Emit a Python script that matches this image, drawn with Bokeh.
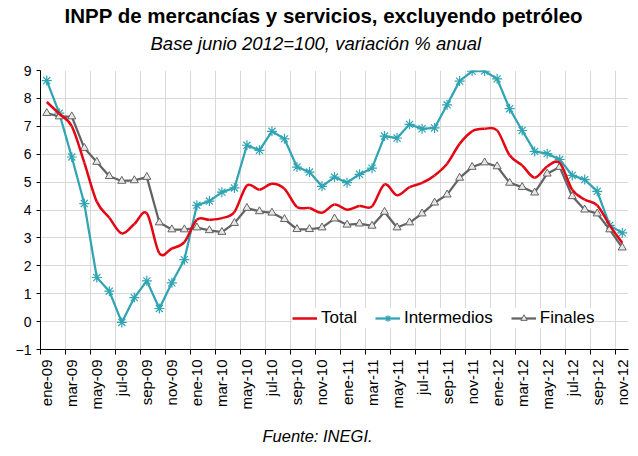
import numpy as np
from bokeh.plotting import figure
from bokeh.models import FixedTicker, Legend, LegendItem, Title, ColumnDataSource
from bokeh.embed import file_html
from bokeh.resources import INLINE

months = [f"{m}-{y}" for y in ["09", "10", "11", "12"]
          for m in ["ene", "feb", "mar", "abr", "may", "jun",
                    "jul", "ago", "sep", "oct", "nov", "dic"]][:47]

total = [7.87, 7.45, 7.00, 5.70, 4.30, 3.72, 3.16, 3.50, 3.88, 2.45, 2.62, 2.85,
         3.65, 3.65, 3.71, 3.93, 4.88, 4.73, 4.94, 4.76, 4.11, 4.07, 3.90, 4.20,
         4.01, 4.14, 4.13, 4.92, 4.53, 4.82, 4.97, 5.24, 5.66, 6.37, 6.82, 6.91,
         6.85, 5.96, 5.60, 5.16, 5.56, 5.69, 4.73, 4.37, 4.17, 3.45, 2.82]

intermedios = [8.64, 7.47, 5.90, 4.23, 1.58, 1.09, -0.03, 0.86, 1.46, 0.47, 1.39, 2.22,
               4.17, 4.32, 4.64, 4.79, 6.32, 6.14, 6.82, 6.55, 5.54, 5.36, 4.85, 5.18,
               4.98, 5.28, 5.50, 6.65, 6.58, 7.07, 6.91, 6.94, 7.77, 8.62, 8.98, 8.98,
               8.70, 7.63, 6.85, 6.10, 6.02, 5.81, 5.24, 5.09, 4.67, 3.45, 3.18]

finales = [7.47, 7.35, 7.35, 6.22, 5.72, 5.21, 5.04, 5.06, 5.18, 3.55, 3.30, 3.30,
           3.37, 3.27, 3.21, 3.53, 4.07, 3.95, 3.90, 3.67, 3.31, 3.31, 3.37, 3.69,
           3.47, 3.51, 3.43, 3.93, 3.37, 3.55, 3.87, 4.26, 4.55, 5.15, 5.54, 5.70,
           5.56, 4.97, 4.82, 4.62, 5.30, 5.54, 4.49, 4.01, 3.87, 3.30, 2.65]

y_ticks = list(range(-1, 10))

RED = "#e30613"
TEAL = "#2fa4b3"
GRAY = "#636363"
FONT = "Liberation Sans"

n = len(months)
xs = np.arange(n, dtype=float)

p = figure(width=632, height=456, x_range=(-0.5, n - 0.5), y_range=(-1, 9),
           output_backend="svg", toolbar_location=None,
           min_border_left=40, min_border_right=4, min_border_top=70, min_border_bottom=107)
p.outline_line_color = None
p.background_fill_color = "white"
p.border_fill_color = "white"

# axes
label_pos = list(range(0, n, 2))
bounds = [b - 0.5 for b in range(0, n, 2)]
p.xaxis.ticker = FixedTicker(ticks=label_pos, minor_ticks=bounds)
p.xaxis.major_label_overrides = {i: months[i] for i in label_pos}
p.xaxis.major_label_orientation = np.pi / 2
p.xaxis.major_tick_out = 0
p.xaxis.major_tick_in = 0
p.xaxis.minor_tick_out = 5
p.xaxis.minor_tick_in = 0
p.xaxis.minor_tick_line_color = "black"
p.xaxis.major_label_standoff = 5

p.yaxis.ticker = FixedTicker(ticks=y_ticks)
p.yaxis.major_tick_out = 4
p.yaxis.major_tick_in = 0
p.yaxis.minor_tick_line_color = None
p.yaxis.major_label_standoff = 5

for ax in (p.xaxis, p.yaxis):
    ax.axis_line_color = "black"
    ax.axis_line_width = 1
    ax.major_tick_line_color = "black"
    ax.major_label_text_font = FONT
    ax.major_label_text_color = "black"
p.xaxis.major_label_text_font_size = "15px"
p.yaxis.major_label_text_font_size = "14px"

p.xgrid.ticker = FixedTicker(ticks=bounds[1:])
p.ygrid.ticker = FixedTicker(ticks=y_ticks)
p.xgrid.grid_line_color = "#d9d9d9"
p.ygrid.grid_line_color = "#d9d9d9"

# Intermedios
r_int_line = p.line(xs, intermedios, line_color=TEAL, line_width=2.25)
r_int_mark = p.scatter(xs, intermedios, marker="asterisk", size=10, line_color=TEAL, line_width=1.2)

# Finales
r_fin_line = p.line(xs, finales, line_color=GRAY, line_width=2.25)
r_fin_mark = p.scatter(xs, finales, marker="triangle", size=8, line_color=GRAY,
                       fill_color="#e8e8e8", line_width=1)

# Total: smoothed line (Catmull-Rom -> cubic Bezier segments)
ty = np.array(total, dtype=float)
xp = np.concatenate([[xs[0]], xs, [xs[-1]]])
yp = np.concatenate([[ty[0]], ty, [ty[-1]]])
src = ColumnDataSource(dict(
    x0=xs[:-1], y0=ty[:-1], x1=xs[1:], y1=ty[1:],
    cx0=xs[:-1] + (xp[2:-1] - xp[:-3]) / 6.0,
    cy0=ty[:-1] + (yp[2:-1] - yp[:-3]) / 6.0,
    cx1=xs[1:] - (xp[3:] - xp[1:-2]) / 6.0,
    cy1=ty[1:] - (yp[3:] - yp[1:-2]) / 6.0,
))
p.bezier(x0="x0", y0="y0", x1="x1", y1="y1", cx0="cx0", cy0="cy0", cx1="cx1", cy1="cy1",
         source=src, line_color=RED, line_width=2.5)
r_tot_leg = p.line([np.nan, np.nan], [np.nan, np.nan], line_color=RED, line_width=2.5)

legend = Legend(items=[
    LegendItem(label="Total", renderers=[r_tot_leg]),
    LegendItem(label="Intermedios", renderers=[r_int_line, r_int_mark]),
    LegendItem(label="Finales", renderers=[r_fin_line, r_fin_mark]),
], orientation="horizontal", location=(252, 21))
legend.label_text_font = FONT
legend.label_text_font_size = "17px"
legend.label_text_color = "black"
legend.glyph_width = 25
legend.glyph_height = 16
legend.label_standoff = 4
legend.spacing = 18
legend.padding = 8
legend.margin = 0
legend.border_line_color = None
legend.background_fill_color = "white"
legend.background_fill_alpha = 1.0
p.add_layout(legend, "center")

# Titles and source
p.add_layout(Title(text="Base junio 2012=100, variación % anual", align="left", offset=110,
                   text_font=FONT, text_font_size="18.5px", text_font_style="italic",
                   text_color="black", standoff=33), "above")
p.add_layout(Title(text="INPP de mercancías y servicios, excluyendo petróleo", align="left", offset=24,
                   text_font=FONT, text_font_size="20.5px", text_font_style="bold",
                   text_color="black", standoff=-25), "above")
p.add_layout(Title(text="Fuente: INEGI.", align="left", offset=222,
                   text_font=FONT, text_font_size="16.5px", text_font_style="italic",
                   text_color="black", standoff=24), "below")

open("out.html", "w").write(file_html(p, INLINE))
